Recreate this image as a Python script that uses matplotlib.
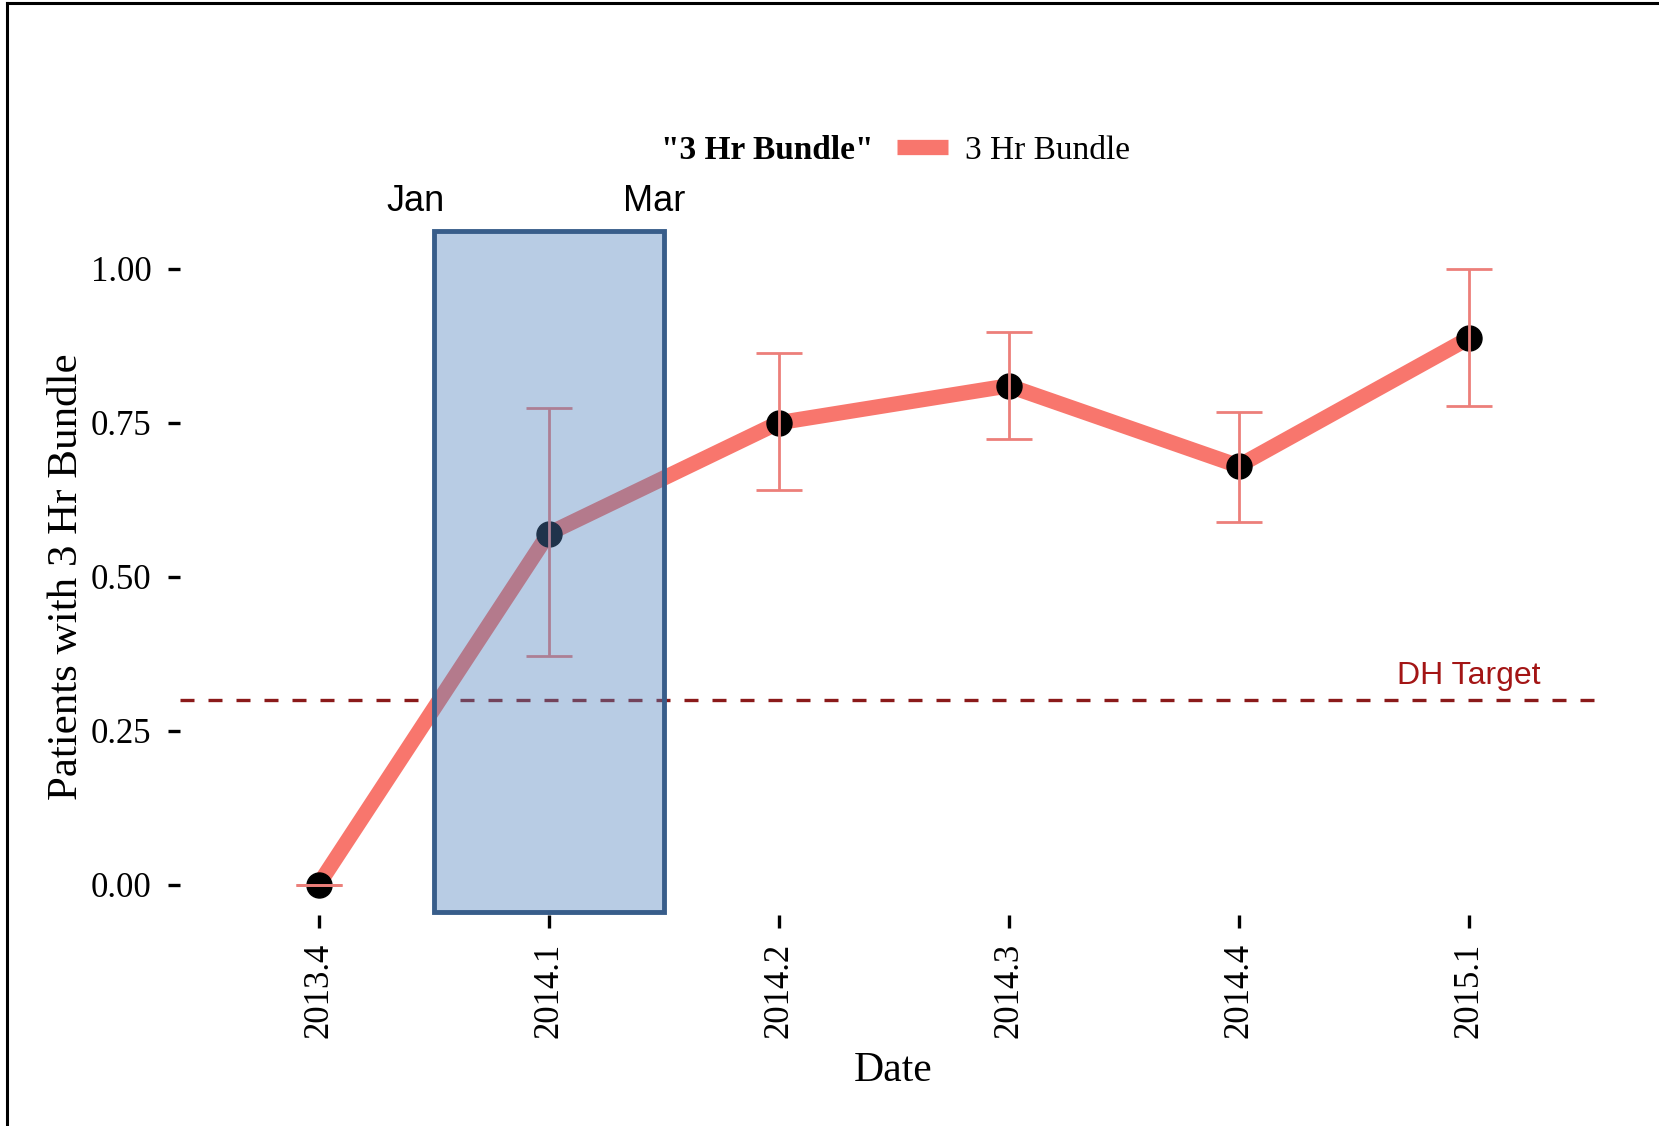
import matplotlib
matplotlib.use("Agg")
import matplotlib.pyplot as plt
from matplotlib.lines import Line2D
from matplotlib.patches import Rectangle

quarters = ["2013.4", "2014.1", "2014.2", "2014.3", "2014.4", "2015.1"]
bundle = [0.00, 0.57, 0.75, 0.81, 0.68, 0.887]
ci_low = [0.00, 0.371, 0.641, 0.723, 0.589, 0.778]
ci_high = [0.00, 0.774, 0.864, 0.897, 0.768, 1.00]
dh_target = 0.30
yticks = [0.00, 0.25, 0.50, 0.75, 1.00]

serif = ["Liberation Serif", "DejaVu Serif"]
sans = ["Liberation Sans", "DejaVu Sans"]
line_col = "#F8766D"

fig = plt.figure(figsize=(16.59, 11.26), dpi=100)
ax = fig.add_axes([0.1088, 0.187, 0.8596, 0.6016])

x = list(range(len(quarters)))
ax.plot(x, bundle, color=line_col, lw=11, zorder=2, solid_capstyle="round")
ax.plot(x, bundle, "o", color="black", ms=18, zorder=3)
err_lo = [b - l for b, l in zip(bundle, ci_low)]
err_hi = [h - b for b, h in zip(bundle, ci_high)]
ax.errorbar(x, bundle, yerr=[err_lo, err_hi], fmt="none", ecolor="#ec7f7a",
            elinewidth=2, capsize=16.5, capthick=2, zorder=4)

ax.axhline(dh_target, color="#8b1a1a", lw=2.4, ls=(0, (4.2, 4.2)), zorder=1)
ax.text(5, dh_target + 0.015, "DH Target", color="#a31515", fontsize=23,
        family=sans, ha="center", va="bottom")

# highlighted Jan-Mar window
rect = Rectangle((0.5, -0.045), 1.0, 1.107, facecolor="#4F81BD", alpha=0.4,
                 edgecolor="none", zorder=5, clip_on=False)
ax.add_patch(rect)
rect_edge = Rectangle((0.5, -0.045), 1.0, 1.107, facecolor="none",
                      edgecolor="#385D8A", lw=3.5, zorder=6, clip_on=False)
ax.add_patch(rect_edge)
ax.text(0.423, 1.11, "Jan", fontsize=26, family=sans, ha="center", va="center")
ax.text(1.458, 1.11, "Mar", fontsize=26, family=sans, ha="center", va="center")

ax.set_xlim(-0.6, 5.6)
ax.set_ylim(-0.05, 1.05)
ax.set_xticks(x)
ax.set_xticklabels(quarters, rotation=90, family=serif, fontsize=25)
ax.set_yticks(yticks)
ax.set_yticklabels(["%.2f" % v for v in yticks], family=serif, fontsize=25)
ax.tick_params(axis="both", direction="out", length=9, width=2.4, color="black")
ax.tick_params(axis="y", pad=12)
ax.tick_params(axis="x", pad=11)
for s in ax.spines.values():
    s.set_visible(False)

ax.set_ylabel("Patients with 3 Hr Bundle", family=serif, fontsize=31, va="center")
ax.yaxis.set_label_coords(-0.0796, 0.5)
ax.set_xlabel("Date", family=serif, fontsize=30, va="center")
ax.xaxis.set_label_coords(0.5, -0.2297)

# legend: bold title on the left, key on the right
fig.text(873 / 1659, 0.866, '"3 Hr Bundle"', family=serif, fontsize=24,
         fontweight="bold", ha="right", va="center")
fig.legend(handles=[Line2D([], [], color=line_col, lw=11, solid_capstyle="butt")],
           labels=["3 Hr Bundle"], loc="center left", bbox_to_anchor=(897 / 1659, 0.866),
           frameon=False, borderaxespad=0, borderpad=0, handlelength=1.53,
           handletextpad=0.5, prop={"family": serif, "size": 24})

# frame around picture (top and left edges only)
fig.add_artist(Line2D([0.0042, 0.0042], [0, 0.9973], color="black", lw=2.2,
                      transform=fig.transFigure))
fig.add_artist(Line2D([0.0042, 1], [0.9973, 0.9973], color="black", lw=2.2,
                      transform=fig.transFigure))

fig.savefig("out.png", dpi=100, facecolor="white")
